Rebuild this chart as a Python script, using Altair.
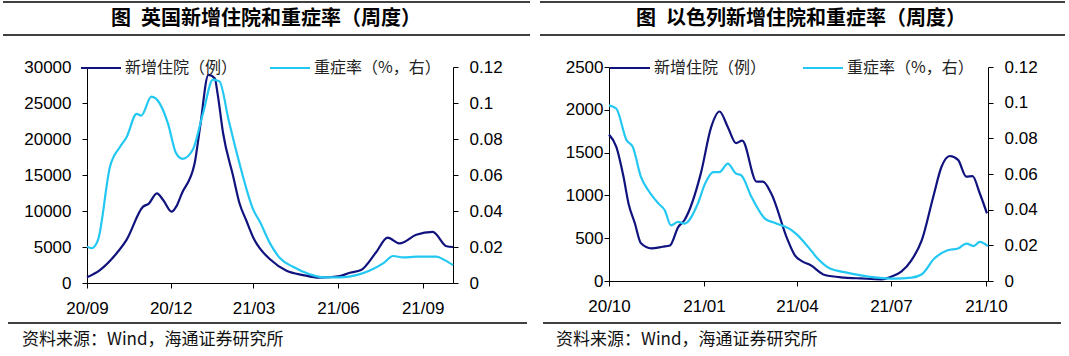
import altair as alt
import pandas as pd

DARK = "#10137e"
LIGHT = "#22c8f2"
S1 = "新增住院（例）"
S2 = "重症率（%，右）"

# ---------------- UK ----------------
uk_adm_dates = ["2020/09/01", "2020/09/15", "2020/10/03", "2020/10/14", "2020/11/01", "2020/11/07",
                "2020/11/16", "2020/11/23", "2020/12/02", "2020/12/07", "2020/12/13", "2020/12/27",
                "2021/01/02", "2021/01/11", "2021/01/18", "2021/01/21", "2021/01/27", "2021/02/07",
                "2021/02/14", "2021/02/21", "2021/03/02", "2021/03/08", "2021/03/19", "2021/04/06",
                "2021/04/24", "2021/05/12", "2021/06/03", "2021/06/14", "2021/06/26", "2021/07/12",
                "2021/07/25", "2021/08/07", "2021/08/25", "2021/09/12", "2021/09/27", "2021/10/04"]
uk_adm_vals = [800, 1800, 4100, 6000, 10600, 11000,
               12450, 11500, 9900, 10600, 12400, 16600,
               21700, 28900, 28400, 26300, 20800, 14800,
               11000, 8750, 6000, 4800, 3300, 1700,
               1100, 740, 970, 1430, 1800, 4200,
               6300, 5500, 6700, 7100, 5100, 5000]

uk_sev_dates = ["2020/09/01", "2020/09/06", "2020/09/13", "2020/09/26", "2020/10/07", "2020/10/14",
                "2020/10/25", "2020/10/30", "2020/11/10", "2020/11/19", "2020/11/28", "2020/12/07",
                "2020/12/14", "2020/12/25", "2021/01/05", "2021/01/16", "2021/01/23", "2021/02/02",
                "2021/02/13", "2021/03/01", "2021/03/08", "2021/03/19", "2021/03/30", "2021/04/13",
                "2021/05/01", "2021/05/16", "2021/06/03", "2021/06/21", "2021/07/05", "2021/07/20",
                "2021/07/31", "2021/08/11", "2021/08/25", "2021/09/16", "2021/09/25", "2021/10/04"]
uk_sev_vals = [0.0202, 0.0193, 0.024, 0.0646, 0.0757, 0.081,
               0.094, 0.093, 0.1035, 0.0998, 0.0887, 0.072,
               0.069, 0.074, 0.094, 0.113, 0.112, 0.0905,
               0.068, 0.0405, 0.034, 0.022, 0.0137, 0.009,
               0.0049, 0.0031, 0.0031, 0.0044, 0.0068, 0.0109,
               0.015, 0.0142, 0.0146, 0.0146, 0.0127, 0.0099]

# ---------------- Israel ----------------
il_adm_dates = ["2020/10/01", "2020/10/08", "2020/10/15", "2020/10/20", "2020/10/26", "2020/11/01",
                "2020/11/11", "2020/11/22", "2020/11/29", "2020/12/07", "2020/12/13", "2020/12/29",
                "2021/01/08", "2021/01/16", "2021/01/24", "2021/02/01", "2021/02/07", "2021/02/21",
                "2021/02/27", "2021/03/07", "2021/03/23", "2021/03/30", "2021/04/06", "2021/04/14",
                "2021/04/28", "2021/05/17", "2021/06/02", "2021/06/22", "2021/07/01", "2021/07/11",
                "2021/07/21", "2021/07/31", "2021/08/11", "2021/08/19", "2021/08/27", "2021/09/04",
                "2021/09/12", "2021/09/18", "2021/09/25", "2021/10/02"]
il_adm_vals = [1710, 1570, 1220, 900, 675, 440,
               380, 400, 415, 630, 710, 1260,
               1800, 1980, 1800, 1610, 1640, 1160,
               1160, 1025, 480, 300, 230, 187,
               70, 40, 30, 20, 50, 110,
               245, 480, 985, 1335, 1460, 1415,
               1220, 1225, 1025, 790]

il_sev_dates = ["2020/10/01", "2020/10/08", "2020/10/18", "2020/10/24", "2020/11/01", "2020/11/08",
                "2020/11/18", "2020/11/24", "2020/11/30", "2020/12/07", "2020/12/13", "2020/12/26",
                "2021/01/02", "2021/01/10", "2021/01/16", "2021/01/24", "2021/02/01", "2021/02/06",
                "2021/02/16", "2021/03/01", "2021/03/11", "2021/03/27", "2021/04/01", "2021/04/12",
                "2021/04/21", "2021/05/03", "2021/05/17", "2021/06/02", "2021/06/18", "2021/07/04",
                "2021/07/21", "2021/07/31", "2021/08/12", "2021/08/25", "2021/09/04", "2021/09/12",
                "2021/09/19", "2021/09/25", "2021/10/03"]
il_sev_vals = [0.0985, 0.0967, 0.079, 0.0752, 0.0583, 0.0509,
               0.0434, 0.0397, 0.0312, 0.0331, 0.0322, 0.0434,
               0.0546, 0.0611, 0.0611, 0.0658, 0.0602, 0.0593,
               0.0471, 0.035, 0.0325, 0.0284, 0.026, 0.019,
               0.0126, 0.007, 0.005, 0.0032, 0.0019, 0.0013,
               0.0019, 0.0038, 0.0126, 0.0172, 0.0182, 0.021,
               0.0196, 0.0219, 0.0195]

uk_title = "图\u2002英国新增住院和重症率（周度）"
il_title = "图\u2002以色列新增住院和重症率（周度）"
source = "资料来源：Wind，海通证券研究所"

uk_ticks = [(2020, 9), (2020, 12), (2021, 3), (2021, 6), (2021, 9)]
il_ticks = [(2020, 10), (2021, 1), (2021, 4), (2021, 7), (2021, 10)]
right_ticks = [0, 0.02, 0.04, 0.06, 0.08, 0.1, 0.12]

CJK = "Noto Sans CJK SC"
LAT = "Liberation Sans"


def dt(y, m, d=1):
    return alt.DateTime(year=y, month=m, date=d)


def panel(title, adm_d, adm_v, sev_d, sev_v, x0, x1, ticks, ymax, ystep,
          width, height, left_label_pad, legend_x, col_pad, deco):
    adm = pd.DataFrame({"date": adm_d, "value": adm_v, "series": S1})
    sev = pd.DataFrame({"date": sev_d, "value": sev_v, "series": S2})

    xenc = alt.X("date:T", title=None,
                 scale=alt.Scale(domain=[x0, x1], nice=False),
                 axis=alt.Axis(values=[dt(y, m) for y, m in ticks], format="%y/%m",
                               labelPadding=12, labelFlush=False))
    color = alt.Color("series:N",
                      scale=alt.Scale(domain=[S1, S2], range=[DARK, LIGHT]),
                      legend=alt.Legend(orient="none", legendX=legend_x, legendY=-20,
                                        direction="horizontal", symbolType="stroke",
                                        symbolSize=1600, symbolStrokeWidth=2,
                                        labelFont=CJK, labelFontSize=16, labelColor="#222222",
                                        labelOffset=3, columnPadding=col_pad, title=None,
                                        padding=0))

    l1 = alt.Chart(adm).mark_line(strokeWidth=2.2, interpolate="monotone").encode(
        x=xenc,
        y=alt.Y("value:Q", title=None,
                scale=alt.Scale(domain=[0, ymax], nice=False),
                axis=alt.Axis(orient="left", values=list(range(0, ymax + 1, ystep)),
                              format="d", labelPadding=left_label_pad)),
        color=color,
    )
    l2 = alt.Chart(sev).mark_line(strokeWidth=2.2, interpolate="monotone").encode(
        x=xenc,
        y=alt.Y("value:Q", title=None,
                scale=alt.Scale(domain=[0, 0.12], nice=False),
                axis=alt.Axis(orient="right", values=right_ticks,
                              labelExpr="datum.value == 0 ? '0' : format(datum.value, '.2~f')",
                              labelPadding=11)),
        color=color,
    )

    one_t = pd.DataFrame({"t": [title]})
    one_s = pd.DataFrame({"t": [source]})
    rx0, rx1, fx0, fx1, tx, sx = deco
    layers = [l1, l2]
    for yy in (-65, -32):
        layers.append(alt.Chart(one_t).mark_rule(color="black", strokeWidth=1.5).encode(
            x=alt.value(rx0), x2=alt.value(rx1), y=alt.value(yy)))
    layers.append(alt.Chart(one_t).mark_rule(color="black", strokeWidth=1.5).encode(
        x=alt.value(fx0), x2=alt.value(fx1), y=alt.value(256)))
    layers.append(alt.Chart(one_t).mark_text(font=CJK, fontSize=20, fontWeight="bold",
                                             align="center", baseline="middle",
                                             color="black").encode(
        x=alt.value(tx), y=alt.value(-48), text="t:N"))
    layers.append(alt.Chart(one_s).mark_text(font=CJK, fontSize=17, align="left",
                                             baseline="middle", color="#111111").encode(
        x=alt.value(sx), y=alt.value(273), text="t:N"))

    return alt.layer(*layers).resolve_scale(y="independent").properties(
        width=width, height=height)


left = panel(uk_title, uk_adm_dates, uk_adm_vals, uk_sev_dates, uk_sev_vals,
             dt(2020, 9, 1), dt(2021, 10, 4), uk_ticks, 30000, 5000,
             366, 216, 11, -7, 28, (-84, 443, -79, 440, 179, -65))
right = panel(il_title, il_adm_dates, il_adm_vals, il_sev_dates, il_sev_vals,
              dt(2020, 10, 1), dt(2021, 10, 3), il_ticks, 2500, 500,
              379, 214, 1, 0, 32, (-69, 456, -66, 452, 192, -53))

chart = alt.hconcat(left, right, spacing=156, bounds="flush").resolve_scale(
    color="independent", x="independent", y="independent"
).resolve_legend(color="independent").properties(
    padding={"left": 2, "top": 1, "right": 2, "bottom": 2},
    background="white",
).configure_view(stroke=None).configure_axis(
    domainColor="black", tickColor="black", labelColor="black",
    labelFont=LAT, labelFontSize=17, tickSize=5, grid=False,
    domainWidth=1, tickWidth=1,
)

chart.save("out.html", embed_options={"renderer": "svg", "actions": False})
